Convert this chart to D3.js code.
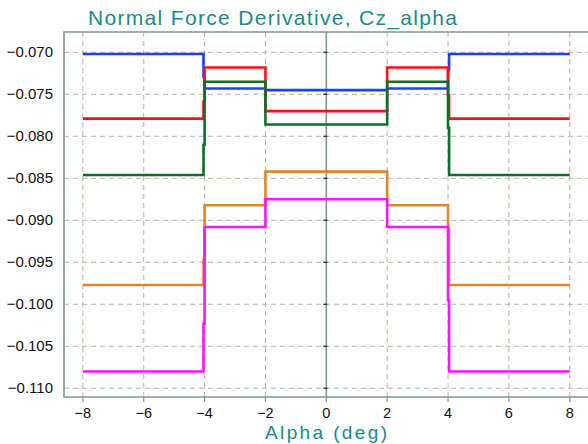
<!DOCTYPE html>
<html>
<head>
<meta charset="utf-8">
<script src="https://cdn.jsdelivr.net/npm/d3@7/dist/d3.min.js"></script>
<style>
  html, body { margin: 0; padding: 0; background: #ffffff; }
  svg { display: block; }
</style>
</head>
<body>
<svg id="chart" width="588" height="444"></svg>
<script>
// ---- data ----
const title = "Normal Force Derivative, Cz_alpha";
const xLabel = "Alpha (deg)";
const xTicks = [-8, -6, -4, -2, 0, 2, 4, 6, 8];
const yTicks = [-0.070, -0.075, -0.080, -0.085, -0.090, -0.095, -0.100, -0.105, -0.110];
// segment breakpoints in alpha
const alphaBreaks = [-8, -4, -2, 2, 4, 8];
const seriesNames = ["blue", "red", "green", "orange", "magenta"];
// level on each of the 5 segments
const blueLevels    = [-0.0702, -0.0743, -0.0745, -0.0743, -0.0702];
const redLevels     = [-0.0779, -0.0718, -0.0770, -0.0718, -0.0779];
const greenLevels   = [-0.0846, -0.0735, -0.0786, -0.0735, -0.0846];
const orangeLevels  = [-0.0977, -0.0882, -0.0842, -0.0882, -0.0977];
const magentaLevels = [-0.1080, -0.0908, -0.0875, -0.0908, -0.1080];
// intermediate value reached during the jumps at alpha = -4 and +4
const blueJogNeg4    = -0.0729, blueJogPos4    = -0.0721;
const redJogNeg4     = -0.0759, redJogPos4     = -0.0751;
const greenJogNeg4   = -0.0810, greenJogPos4   = -0.0790;
const orangeJogNeg4  = -0.0947, orangeJogPos4  = -0.0910;
const magentaJogNeg4 = -0.1023, magentaJogPos4 = -0.0995;

const seriesLevels = [blueLevels, redLevels, greenLevels, orangeLevels, magentaLevels];
const seriesJogs = [
  [blueJogNeg4, blueJogPos4], [redJogNeg4, redJogPos4], [greenJogNeg4, greenJogPos4],
  [orangeJogNeg4, orangeJogPos4], [magentaJogNeg4, magentaJogPos4]
];
const colors = ["#1f3fff", "#ff1010", "#0b6e2a", "#e0862c", "#ff14ff"];

// ---- layout ----
const svg = d3.select("#chart");
const plot = { left: 64, top: 32, right: 588, bottom: 397 };
const x = d3.scaleLinear().domain([-8.62, 8.6]).range([plot.left, plot.right]);
const y = d3.scaleLinear().domain([-0.11104, -0.06758]).range([plot.bottom, plot.top]);

const gridColor = "#c4ae9c";
const frameColor = "#7e989c";
const teal = "#1a8a8c";
const font = "'Liberation Sans', Arial, sans-serif";

// grid
const g = svg.append("g");
g.selectAll("line.hg").data(yTicks).enter().append("line")
  .attr("x1", plot.left).attr("x2", plot.right)
  .attr("y1", d => y(d)).attr("y2", d => y(d))
  .attr("stroke", gridColor).attr("stroke-width", 1).attr("stroke-dasharray", "5,4");
g.selectAll("line.vg").data(xTicks.filter(d => d !== 0)).enter().append("line")
  .attr("x1", d => x(d)).attr("x2", d => x(d))
  .attr("y1", plot.top).attr("y2", plot.bottom)
  .attr("stroke", gridColor).attr("stroke-width", 1).attr("stroke-dasharray", "5,4");

// zero line
svg.append("line")
  .attr("x1", x(0)).attr("x2", x(0)).attr("y1", plot.top).attr("y2", plot.bottom)
  .attr("stroke", frameColor).attr("stroke-width", 1.6);
// ticks on zero line
svg.selectAll("line.zt").data(yTicks).enter().append("line")
  .attr("x1", x(0) - 3).attr("x2", x(0) + 1)
  .attr("y1", d => y(d)).attr("y2", d => y(d))
  .attr("stroke", "#222").attr("stroke-width", 1.2);

// frame (left, top, bottom)
svg.append("path")
  .attr("d", `M${plot.right},${plot.top}H${plot.left}V${plot.bottom}H${plot.right}`)
  .attr("fill", "none").attr("stroke", frameColor).attr("stroke-width", 1.6);

// bottom ticks
svg.selectAll("line.xt").data(xTicks).enter().append("line")
  .attr("x1", d => x(d)).attr("x2", d => x(d))
  .attr("y1", plot.bottom).attr("y2", plot.bottom + 5)
  .attr("stroke", frameColor).attr("stroke-width", 1.2);

// tick labels
svg.selectAll("text.yl").data(yTicks).enter().append("text")
  .attr("x", 53).attr("y", d => y(d) + 5)
  .attr("text-anchor", "end")
  .attr("font-family", font).attr("font-size", 15).attr("fill", "#111")
  .text(d => d3.format(".3f")(d).replace("-0.", "-."));
svg.selectAll("text.xl").data(xTicks).enter().append("text")
  .attr("x", d => x(d)).attr("y", 418)
  .attr("text-anchor", "middle")
  .attr("font-family", font).attr("font-size", 14.5).attr("fill", "#111")
  .text(d => d3.format("d")(d));

// title & axis label
svg.append("text").attr("x", 88).attr("y", 25)
  .attr("font-family", font).attr("font-size", 21).attr("fill", teal)
  .attr("textLength", 369).attr("lengthAdjust", "spacing")
  .text(title);
svg.append("text").attr("x", 265).attr("y", 439)
  .attr("font-family", font).attr("font-size", 19).attr("fill", teal)
  .attr("textLength", 122).attr("lengthAdjust", "spacing")
  .text(xLabel);

// series as step lines
function buildPoints(levels, jogs) {
  const d = 0.035;
  const pts = [];
  pts.push([alphaBreaks[0], levels[0]]);
  pts.push([alphaBreaks[1] - d, levels[0]]);
  pts.push([alphaBreaks[1] - d, jogs[0]]);
  pts.push([alphaBreaks[1], jogs[0]]);
  pts.push([alphaBreaks[1], levels[1]]);
  pts.push([alphaBreaks[2], levels[1]]);
  pts.push([alphaBreaks[2], levels[2]]);
  pts.push([alphaBreaks[3], levels[2]]);
  pts.push([alphaBreaks[3], levels[3]]);
  pts.push([alphaBreaks[4], levels[3]]);
  pts.push([alphaBreaks[4], jogs[1]]);
  pts.push([alphaBreaks[4] + d, jogs[1]]);
  pts.push([alphaBreaks[4] + d, levels[4]]);
  pts.push([alphaBreaks[5], levels[4]]);
  return pts;
}
const line = d3.line().x(p => x(p[0])).y(p => y(p[1]));
seriesLevels.forEach((lv, i) => {
  svg.append("path")
    .datum(buildPoints(lv, seriesJogs[i]))
    .attr("d", line)
    .attr("fill", "none")
    .attr("stroke", colors[i])
    .attr("stroke-width", 2.6)
    .attr("stroke-linejoin", "miter");
});
</script>
</body>
</html>
